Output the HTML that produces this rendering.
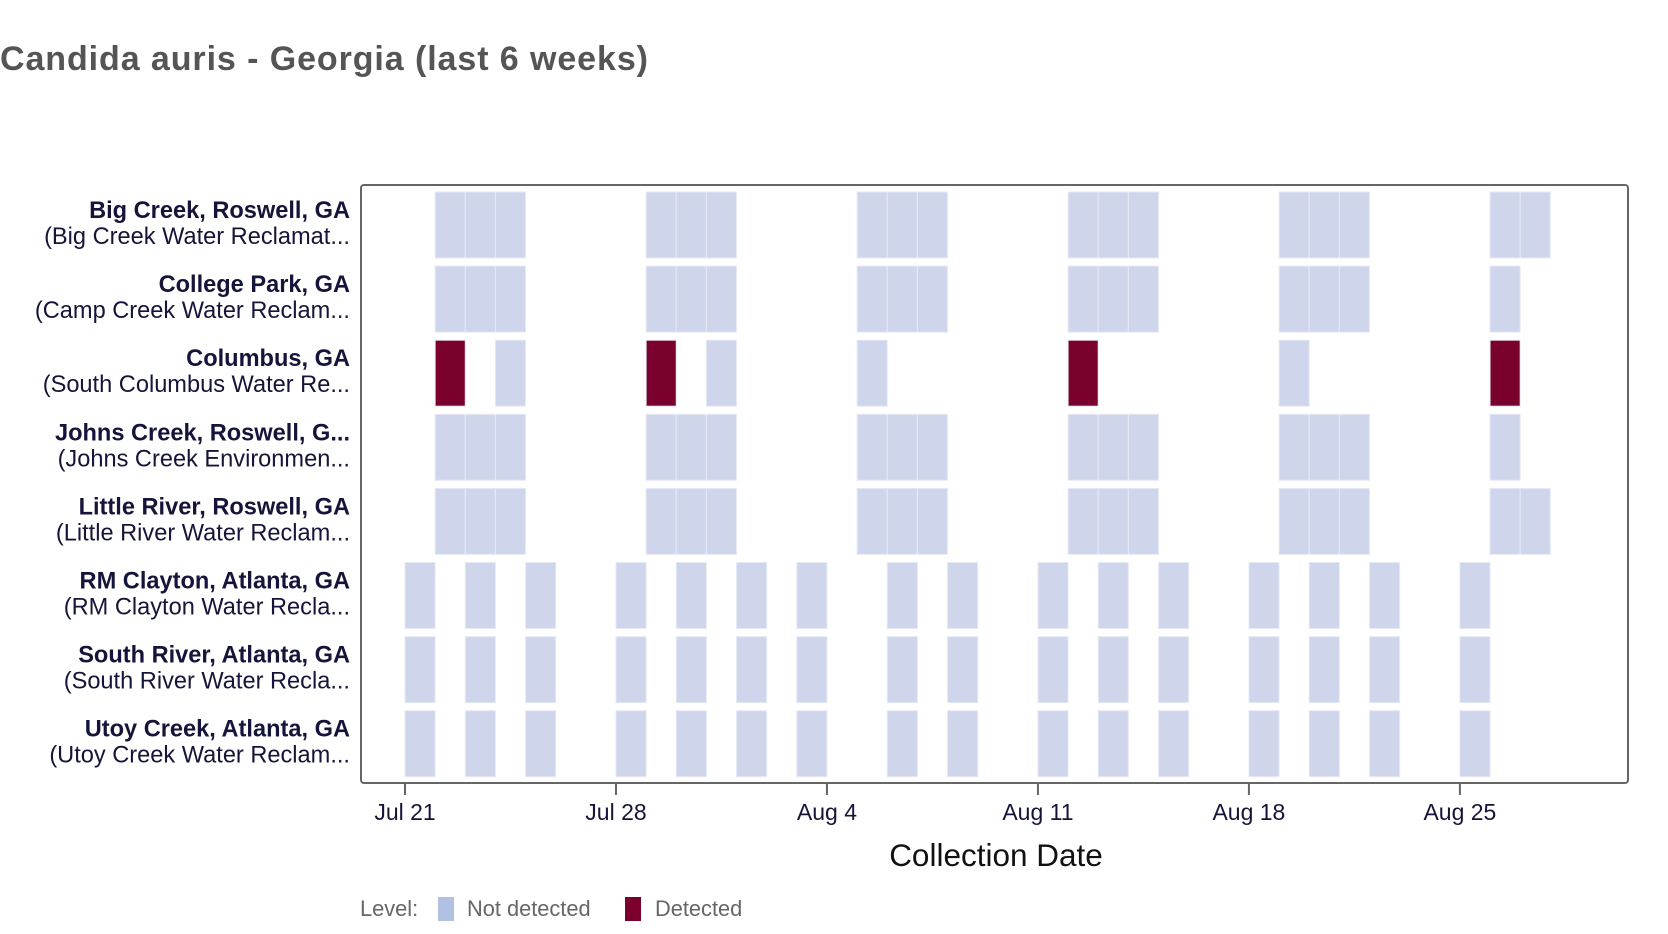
<!DOCTYPE html>
<html><head><meta charset="utf-8"><style>
html,body{margin:0;padding:0;background:#fff;}
svg{display:block;font-family:"Liberation Sans",Arial,sans-serif;}
</style></head><body>
<svg id="chart" width="1668" height="934" viewBox="0 0 1668 934">
<text x="0" y="70" font-size="34" font-weight="bold" fill="#555" textLength="648">Candida auris - Georgia (last 6 weeks)</text>
<g id="cells"></g>
<g id="ylabels"></g>
<rect x="361" y="185" width="1267" height="598" rx="3" fill="none" stroke="#666" stroke-width="2"/>
<g id="xaxis"></g>
<text x="996" y="866" font-size="31.5" text-anchor="middle" fill="#111">Collection Date</text>
<g>
<text x="360" y="916" font-size="21.8" fill="#666">Level:</text>
<rect x="438" y="897" width="16" height="24" fill="#b2c1e3"/>
<text x="467" y="916" font-size="21.8" fill="#666">Not detected</text>
<rect x="625" y="897" width="16" height="24" fill="#7a002d"/>
<text x="655" y="916" font-size="21.8" fill="#666">Detected</text>
</g>
</svg>
<script>
const sites = ["Big Creek, Roswell, GA","College Park, GA","Columbus, GA","Johns Creek, Roswell, G...","Little River, Roswell, GA","RM Clayton, Atlanta, GA","South River, Atlanta, GA","Utoy Creek, Atlanta, GA"];
const plants = ["(Big Creek Water Reclamat...","(Camp Creek Water Reclam...","(South Columbus Water Re...","(Johns Creek Environmen...","(Little River Water Reclam...","(RM Clayton Water Recla...","(South River Water Recla...","(Utoy Creek Water Reclam..."];
// sample days (offset from Jul 21) per site
const notDetectedDays = [
 [1,2,3,8,9,10,15,16,17,22,23,24,29,30,31,36,37],
 [1,2,3,8,9,10,15,16,17,22,23,24,29,30,31,36],
 [3,10,15,29],
 [1,2,3,8,9,10,15,16,17,22,23,24,29,30,31,36],
 [1,2,3,8,9,10,15,16,17,22,23,24,29,30,31,36,37],
 [0,2,4,7,9,11,13,16,18,21,23,25,28,30,32,35],
 [0,2,4,7,9,11,13,16,18,21,23,25,28,30,32,35],
 [0,2,4,7,9,11,13,16,18,21,23,25,28,30,32,35]
];
const detectedDays = [[],[],[1,8,22,36],[],[],[],[],[]];
const tickDays = [0,7,14,21,28,35];
const tickLabels = ["Jul 21","Jul 28","Aug 4","Aug 11","Aug 18","Aug 25"];

const NS="http://www.w3.org/2000/svg";
const x0=405, dayW=30.14;
function xScale(d){return x0+d*dayW;}
const rowTop0=192, rowPitch=74.1, cellH=66;
function yScale(i){return rowTop0+i*rowPitch;}

const cells=document.getElementById('cells');
function addCell(i,d,color,name){
  const r=document.createElementNS(NS,'rect');
  r.setAttribute('x',xScale(d));
  r.setAttribute('y',yScale(i));
  r.setAttribute('width',dayW);
  r.setAttribute('height',cellH);
  r.setAttribute('fill',color);
  r.setAttribute('stroke','#e6eaf6');
  r.setAttribute('stroke-width','1');
  
  
  cells.appendChild(r);
}
notDetectedDays.forEach((arr,i)=>arr.forEach(d=>addCell(i,d,'#cfd6ec','cell-not-detected')));
detectedDays.forEach((arr,i)=>arr.forEach(d=>addCell(i,d,'#7a002d','cell-detected')));

const yl=document.getElementById('ylabels');
sites.forEach((s,i)=>{
  const t=document.createElementNS(NS,'text');
  t.setAttribute('x',350);t.setAttribute('y',yScale(i)+26);
  t.setAttribute('text-anchor','end');t.setAttribute('font-size','23.6');
  t.setAttribute('font-weight','bold');t.setAttribute('fill','#15143a');
  t.textContent=s;
  
  
  yl.appendChild(t);
  const u=document.createElementNS(NS,'text');
  u.setAttribute('x',350);u.setAttribute('y',yScale(i)+52);
  u.setAttribute('text-anchor','end');u.setAttribute('font-size','23.6');
  u.setAttribute('fill','#15143a');
  u.textContent=plants[i];
  
  
  yl.appendChild(u);
});

const xa=document.getElementById('xaxis');
tickDays.forEach((d,i)=>{
  const l=document.createElementNS(NS,'line');
  l.setAttribute('x1',xScale(d));l.setAttribute('x2',xScale(d));
  l.setAttribute('y1',784);l.setAttribute('y2',795);
  l.setAttribute('stroke','#666');l.setAttribute('stroke-width','2');
  
  
  xa.appendChild(l);
  const t=document.createElementNS(NS,'text');
  t.setAttribute('x',xScale(d));t.setAttribute('y',820);
  t.setAttribute('text-anchor','middle');t.setAttribute('font-size','23');
  t.setAttribute('fill','#15143a');
  t.textContent=tickLabels[i];
  
  
  xa.appendChild(t);
});
</script>
</body></html>
